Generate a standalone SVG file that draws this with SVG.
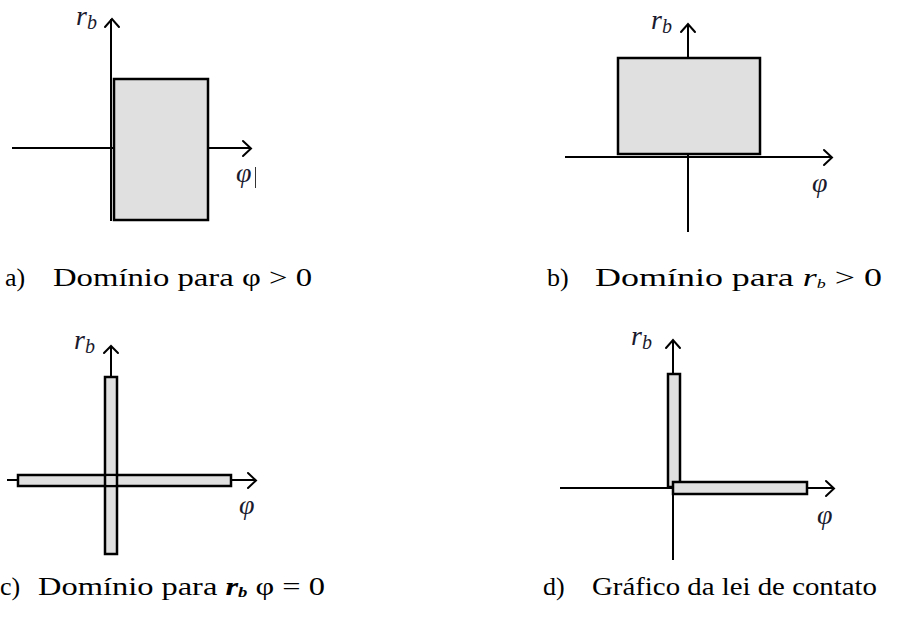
<svg xmlns="http://www.w3.org/2000/svg" width="912" height="630" viewBox="0 0 912 630">
<defs>
<style>
.ax{stroke:#000;stroke-width:2;fill:none}
.ah{stroke:#000;stroke-width:2;fill:none;stroke-linecap:round;stroke-linejoin:miter}
.reg{fill:#e0e0e0;stroke:#000;stroke-width:2.5}
.lbl{font-family:"Liberation Serif","DejaVu Serif",serif;font-style:italic;font-size:28px;fill:#1a1a2e}
.sub{font-size:20px}
.cap{font-family:"Liberation Serif","DejaVu Serif",serif;font-size:26px;fill:#000}
</style>
</defs>
<rect width="912" height="630" fill="#fff"/>

<g id="panel-a">
<rect class="reg" x="114" y="79" width="94" height="141"/>
<g id="axes-a">
<line class="ax" x1="111" y1="221" x2="111" y2="19"/>
<polyline class="ah" points="105,27 112,19 119,27"/>
<line class="ax" x1="12" y1="148" x2="113" y2="148"/>
<line class="ax" x1="208" y1="148" x2="251" y2="148"/>
<polyline class="ah" points="243,141 251,148.5 243,156"/>
</g>
<text class="lbl" x="76" y="25">r<tspan class="sub" dy="4">b</tspan></text>
<text class="lbl" x="236" y="182">φ</text>
<line x1="255.5" y1="167" x2="255.5" y2="188" stroke="#333" stroke-width="1"/>
<text class="cap" x="5" y="286">a)</text>
<text class="cap" x="53" y="286" textLength="259" lengthAdjust="spacingAndGlyphs">Domínio para φ &gt; 0</text>
</g>

<g id="panel-b">
<g id="axes-b">
<line class="ax" x1="565" y1="157" x2="832" y2="157"/>
<polyline class="ah" points="824,150 832,157.5 824,165"/>
<line class="ax" x1="688" y1="232" x2="688" y2="24"/>
<polyline class="ah" points="681,32 688,24 695,32"/>
</g>
<rect class="reg" x="618" y="58" width="142" height="96"/>
<text class="lbl" x="651" y="29">r<tspan class="sub" dy="4">b</tspan></text>
<text class="lbl" x="812" y="192">φ</text>
<text class="cap" x="547" y="286">b)</text>
<text class="cap" x="595" y="286" textLength="287" lengthAdjust="spacingAndGlyphs">Domínio para <tspan font-style="italic">r<tspan font-size="13px" dy="2">b</tspan></tspan><tspan dy="-2"> &gt; 0</tspan></text>
</g>

<g id="panel-c">
<g id="axes-c">
<line class="ax" x1="111" y1="377" x2="111" y2="346"/>
<polyline class="ah" points="104,353 111,346 118,353"/>
<line class="ax" x1="7" y1="480" x2="18" y2="480"/>
<line class="ax" x1="231" y1="480" x2="256" y2="480"/>
<polyline class="ah" points="248,473 256,480.5 248,488"/>
</g>
<rect class="reg" x="105" y="377" width="12" height="177"/>
<rect class="reg" x="18" y="475" width="213" height="11"/>
<rect x="106.25" y="476.25" width="9.5" height="8.5" fill="#e0e0e0"/>
<line x1="105" y1="475" x2="105" y2="486" stroke="#000" stroke-width="2.5"/>
<line x1="117" y1="475" x2="117" y2="486" stroke="#000" stroke-width="2.5"/>
<text class="lbl" x="74" y="349">r<tspan class="sub" dy="4">b</tspan></text>
<text class="lbl" x="239" y="514">φ</text>
<text class="cap" x="0" y="595">c)</text>
<text class="cap" x="38" y="595" textLength="287" lengthAdjust="spacingAndGlyphs">Domínio para <tspan font-weight="bold" font-style="italic">r<tspan font-size="15px" dy="2">b</tspan></tspan><tspan dy="-2"> φ = 0</tspan></text>
</g>

<g id="panel-d">
<g id="axes-d">
<line class="ax" x1="560" y1="488" x2="834" y2="488"/>
<polyline class="ah" points="826,481 834,488.5 826,496"/>
<line class="ax" x1="673" y1="560" x2="673" y2="340"/>
<polyline class="ah" points="666,348 673,340 680,348"/>
</g>
<rect class="reg" x="668" y="374" width="12" height="113"/>
<rect class="reg" x="673" y="482" width="134" height="12"/>
<text class="lbl" x="631" y="345">r<tspan class="sub" dy="4">b</tspan></text>
<text class="lbl" x="817" y="524">φ</text>
<text class="cap" x="543" y="595">d)</text>
<text class="cap" x="592" y="595" textLength="285" lengthAdjust="spacingAndGlyphs">Gráfico da lei de contato</text>
</g>
</svg>
